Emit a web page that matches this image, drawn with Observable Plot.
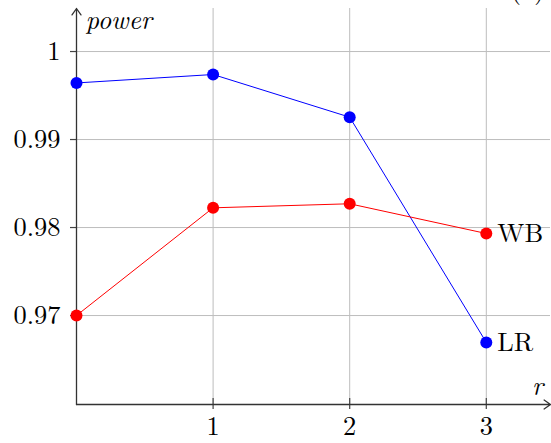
<!DOCTYPE html>
<html><head><meta charset="utf-8">
<script src="https://cdn.jsdelivr.net/npm/d3@7"></script>
<script src="https://cdn.jsdelivr.net/npm/@observablehq/plot@0.6"></script>
<style>
body{margin:0;background:#fff;overflow:hidden}
</style>
</head><body><div id="chart"></div>
<script>
const r = [0, 1, 2, 3];
const lrValues = [0.99643, 0.99739, 0.99254, 0.96694];
const wbValues = [0.97000, 0.98224, 0.98270, 0.97932];
const seriesNames = ["LR", "WB"];
const seriesColors = ["#0000ff", "#ff0000"];
const xTicks = [1, 2, 3];
const xTickLabels = ["1", "2", "3"];
const yTicks = [0.97, 0.98, 0.99, 1];
const yTickLabels = ["0.97", "0.98", "0.99", "1"];

const xMin = 0, xMax = 3.47;
const yMin = 0.95989, yMax = 1.00489;

const rows = [];
[lrValues, wbValues].forEach((vals, i) => {
  vals.forEach((v, j) => rows.push({r: r[j], power: v, series: seriesNames[i]}));
});
const last = rows.filter(d => d.r === r[r.length - 1]);

const font = "Latin Modern Roman";
const fs = 26.4;

const chart = Plot.plot({
  width: 551,
  height: 443,
  marginLeft: 76,
  marginRight: 1,
  marginTop: 8,
  marginBottom: 39,
  x: {domain: [xMin, xMax]},
  y: {domain: [yMin, yMax]},
  color: {domain: seriesNames, range: seriesColors},
  style: {fontFamily: font, fontSize: fs + "px", background: "white", overflow: "visible"},
  marks: [
    Plot.gridX(xTicks, {stroke: "#bdbdbd", strokeOpacity: 1, strokeWidth: 1}),
    Plot.gridY(yTicks, {stroke: "#bdbdbd", strokeOpacity: 1, strokeWidth: 1}),
    Plot.axisX(xTicks, {tickSize: 5, tickPadding: 7, fontSize: fs, stroke: "#444", fill: "black", strokeWidth: 1.2, tickFormat: (d, i) => xTickLabels[i], label: null}),
    Plot.axisX(xTicks, {tickSize: -6, tickFormat: () => "", stroke: "#444", strokeWidth: 1.2, label: null}),
    Plot.axisY(yTicks, {tickSize: 6, tickPadding: 10, fontSize: fs, stroke: "#444", fill: "black", strokeWidth: 1.2, tickFormat: (d, i) => yTickLabels[i], label: null}),
    Plot.arrow([{x1: xMin, y1: yMin, x2: xMin, y2: yMax}], {x1: "x1", y1: "y1", x2: "x2", y2: "y2", stroke: "#333", strokeWidth: 1.3, headLength: 9, headAngle: 70}),
    Plot.arrow([{x1: xMin, y1: yMin, x2: xMax, y2: yMin}], {x1: "x1", y1: "y1", x2: "x2", y2: "y2", stroke: "#333", strokeWidth: 1.3, headLength: 9, headAngle: 70}),
    Plot.line(rows, {x: "r", y: "power", z: "series", stroke: "series", strokeWidth: 1}),
    Plot.dot(rows, {x: "r", y: "power", fill: "series", r: 6}),
    Plot.text(last, {x: "r", y: "power", text: "series", dx: 11, textAnchor: "start", fill: "black", fontSize: fs}),
    Plot.text(["power"], {x: xMin, y: 1.00352, text: d => d, dx: 9, textAnchor: "start", fontStyle: "italic", fontSize: fs, fill: "black"}),
    Plot.text(["r"], {x: 3.375, y: 0.96193, text: d => d, textAnchor: "middle", fontStyle: "italic", fontSize: fs, fill: "black"}),
    Plot.text(["(a)"], {frameAnchor: "top-right", text: d => d, dx: -6, dy: -29, textAnchor: "end", fontSize: fs, fill: "black"})
  ]
});
d3.select(chart).attr("font-family", font).style("font-family", font);
d3.select(chart).selectAll("text, g").attr("font-family", font).style("font-family", font);
document.getElementById("chart").appendChild(chart);
</script></body></html>
